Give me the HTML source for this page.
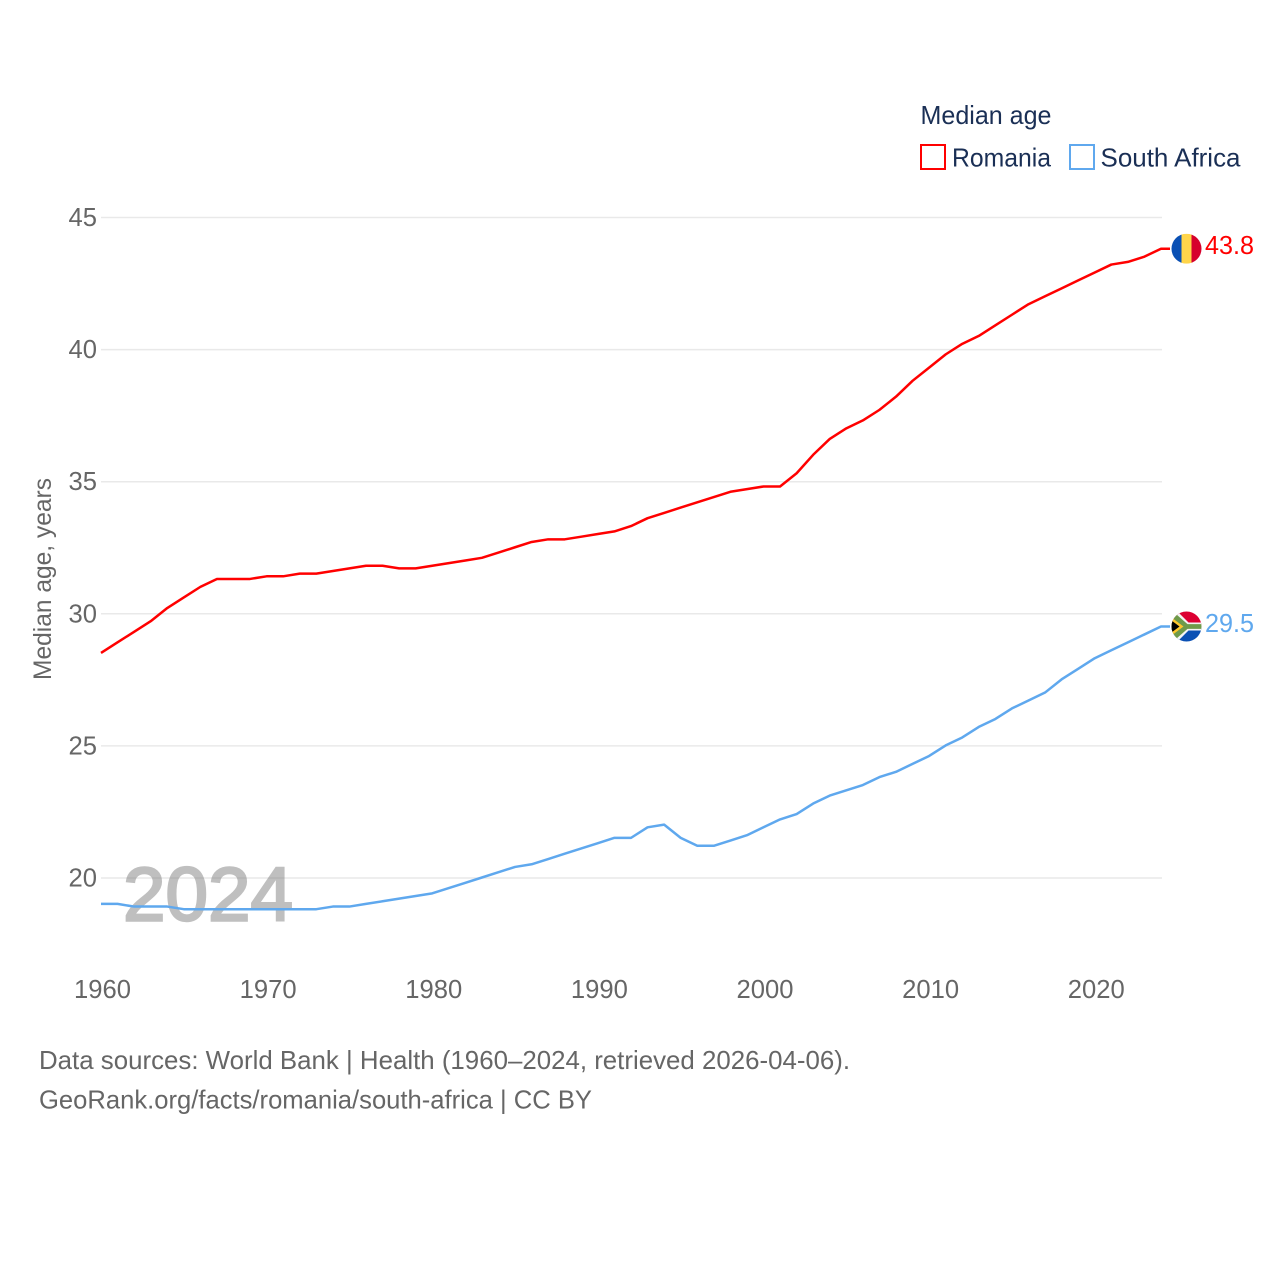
<!DOCTYPE html>
<html lang="en">
<head>
<meta charset="utf-8">
<title>Median age: Romania and South Africa</title>
<style>
  html, body { margin: 0; padding: 0; background: #fff; }
  svg { display: block; font-family: "Liberation Sans", sans-serif; }
</style>
</head>
<body>
<svg id="chart" xmlns="http://www.w3.org/2000/svg" width="1280" height="1280" viewBox="0 0 1280 1280">
  <rect width="1280" height="1280" fill="#ffffff"/>
  <defs>
    <clipPath id="flag-clip-ro"><circle id="clip-ro" cx="0" cy="0" r="15"/></clipPath>
    <clipPath id="flag-clip-za"><circle id="clip-za" cx="0" cy="0" r="15"/></clipPath>
  </defs>
  <g id="grid"></g>
  <g id="y-ticks"></g>
  <g id="x-ticks"></g>
  <text transform="translate(51,680) rotate(-90)" font-size="25" fill="#666666" textLength="202" lengthAdjust="spacingAndGlyphs">Median age, years</text>
  <text id="year-label" x="123" y="920.5" font-size="76" fill="#808080" stroke="#808080" stroke-width="2.4" opacity="0.5" textLength="170" lengthAdjust="spacingAndGlyphs">2024</text>
  <g id="series"></g>

  <g id="flag-ro">
    <g clip-path="url(#flag-clip-ro)">
      <rect x="-15" y="-15" width="10" height="30" fill="#0a50b4"/>
      <rect x="-5" y="-15" width="10" height="30" fill="#ffd54a"/>
      <rect x="5" y="-15" width="10" height="30" fill="#d6002c"/>
    </g>
  </g>
  <g id="flag-za">
    <g clip-path="url(#flag-clip-za)">
      <rect x="-15" y="-15" width="30" height="15" fill="#dc0032"/>
      <rect x="-15" y="0" width="30" height="15" fill="#0a50b4"/>
      <polygon points="-15,-15 -9,-15 2,-4 15,-4 15,4 2,4 -9,15 -15,15" fill="#f4f4f4"/>
      <polygon points="-15,-12 -10,-12 1,-2.4 15,-2.4 15,2.4 1,2.4 -10,12 -15,12" fill="#6f9a4a"/>
      <polygon points="-15,-9 -3,0 -15,9" fill="#ffc72c"/>
      <polygon points="-15,-6 -7,0 -15,6" fill="#000000"/>
    </g>
  </g>
  <text id="value-ro" x="1205" y="254" font-size="25.6" fill="#ff0000" textLength="49" lengthAdjust="spacingAndGlyphs"></text>
  <text id="value-za" x="1205" y="632" font-size="25.6" fill="#5fa8ee" textLength="49" lengthAdjust="spacingAndGlyphs"></text>

  <g>
    <text x="920.5" y="124" font-size="26" fill="#1a2f55" textLength="131" lengthAdjust="spacingAndGlyphs">Median age</text>
    <g>
      <rect x="921" y="145" width="24" height="24" fill="none" stroke="#ff0000" stroke-width="2"/>
      <text x="952" y="166.5" font-size="26" fill="#1a2f55" textLength="99" lengthAdjust="spacingAndGlyphs">Romania</text>
    </g>
    <g>
      <rect x="1070" y="145" width="24" height="24" fill="none" stroke="#5fa8ee" stroke-width="2"/>
      <text x="1100.5" y="166.5" font-size="26" fill="#1a2f55" textLength="140" lengthAdjust="spacingAndGlyphs">South Africa</text>
    </g>
  </g>

  <text x="39" y="1069" font-size="26" fill="#666666" textLength="811" lengthAdjust="spacingAndGlyphs">Data sources: World Bank | Health (1960–2024, retrieved 2026-04-06).</text>
  <text x="39" y="1108.5" font-size="26" fill="#666666" textLength="553" lengthAdjust="spacingAndGlyphs">GeoRank.org/facts/romania/south-africa | CC BY</text>
</svg>
<script>
const years = [1960,1961,1962,1963,1964,1965,1966,1967,1968,1969,1970,1971,1972,1973,1974,1975,1976,1977,1978,1979,1980,1981,1982,1983,1984,1985,1986,1987,1988,1989,1990,1991,1992,1993,1994,1995,1996,1997,1998,1999,2000,2001,2002,2003,2004,2005,2006,2007,2008,2009,2010,2011,2012,2013,2014,2015,2016,2017,2018,2019,2020,2021,2022,2023,2024];
const romaniaValues = [28.5,28.9,29.3,29.7,30.2,30.6,31.0,31.3,31.3,31.3,31.4,31.4,31.5,31.5,31.6,31.7,31.8,31.8,31.7,31.7,31.8,31.9,32.0,32.1,32.3,32.5,32.7,32.8,32.8,32.9,33.0,33.1,33.3,33.6,33.8,34.0,34.2,34.4,34.6,34.7,34.8,34.8,35.3,36.0,36.6,37.0,37.3,37.7,38.2,38.8,39.3,39.8,40.2,40.5,40.9,41.3,41.7,42.0,42.3,42.6,42.9,43.2,43.3,43.5,43.8];
const southAfricaValues = [19.0,19.0,18.9,18.9,18.9,18.8,18.8,18.8,18.8,18.8,18.8,18.8,18.8,18.8,18.9,18.9,19.0,19.1,19.2,19.3,19.4,19.6,19.8,20.0,20.2,20.4,20.5,20.7,20.9,21.1,21.3,21.5,21.5,21.9,22.0,21.5,21.2,21.2,21.4,21.6,21.9,22.2,22.4,22.8,23.1,23.3,23.5,23.8,24.0,24.3,24.6,25.0,25.3,25.7,26.0,26.4,26.7,27.0,27.5,27.9,28.3,28.6,28.9,29.2,29.5];
const yTickValues = [20,25,30,35,40,45];
const xTickValues = [1960,1970,1980,1990,2000,2010,2020];

const NS = 'http://www.w3.org/2000/svg';
const plotLeft = 101, plotRight = 1161, gridRight = 1162, plotTop = 217.5, plotBottom = 878;
const seriesShift = -0.5;
function xScale(year) {
  return plotLeft + (year - 1960) * (plotRight - plotLeft) / (2024 - 1960);
}
function yScale(value) {
  return plotBottom - (value - 20) * (plotBottom - plotTop) / (45 - 20);
}

const gridGroup = document.getElementById('grid');
const yTickGroup = document.getElementById('y-ticks');
yTickValues.forEach(function (tick) {
  const line = document.createElementNS(NS, 'line');
  
  
  line.setAttribute('x1', plotLeft);
  line.setAttribute('x2', gridRight);
  line.setAttribute('y1', yScale(tick));
  line.setAttribute('y2', yScale(tick));
  line.setAttribute('stroke', '#e9e9e9');
  line.setAttribute('stroke-width', '1.5');
  gridGroup.appendChild(line);

  const label = document.createElementNS(NS, 'text');
  
  
  label.setAttribute('x', 97);
  label.setAttribute('y', yScale(tick) + 8.5);
  label.setAttribute('text-anchor', 'end');
  label.setAttribute('font-size', '25.6');
  label.setAttribute('fill', '#666666');
  label.textContent = tick;
  yTickGroup.appendChild(label);
});

const xTickGroup = document.getElementById('x-ticks');
xTickValues.forEach(function (tick) {
  const label = document.createElementNS(NS, 'text');
  
  
  label.setAttribute('x', xScale(tick) + 1.5);
  label.setAttribute('y', 998);
  label.setAttribute('text-anchor', 'middle');
  label.setAttribute('font-size', '25.6');
  label.setAttribute('fill', '#666666');
  label.textContent = tick;
  xTickGroup.appendChild(label);
});

function drawSeries(values, colour, seriesName) {
  const last = values[values.length - 1];
  let d = values.map(function (v, i) {
    return (i ? 'L' : 'M') + xScale(years[i]).toFixed(2) + ' ' + (yScale(v) + seriesShift).toFixed(2);
  }).join(' ');
  d += ' L' + (xScale(years[years.length - 1]) + 9).toFixed(2) + ' ' + (yScale(last) + seriesShift).toFixed(2);
  const path = document.createElementNS(NS, 'path');
  
  
  path.setAttribute('d', d);
  path.setAttribute('fill', 'none');
  path.setAttribute('stroke', colour);
  path.setAttribute('stroke-width', '2.5');
  path.setAttribute('stroke-linejoin', 'round');
  document.getElementById('series').appendChild(path);
}
drawSeries(southAfricaValues, '#5fa8ee', 'south-africa-line');
drawSeries(romaniaValues, '#ff0000', 'romania-line');

function placeEnd(values, code) {
  const last = values[values.length - 1];
  const cy = yScale(last) - 0.5;
  document.getElementById('flag-' + code).setAttribute('transform', 'translate(1186.5,' + cy.toFixed(2) + ')');
  const value = document.getElementById('value-' + code);
  value.textContent = last.toFixed(1);
  value.setAttribute('y', (cy + 5.5).toFixed(2));
}
placeEnd(romaniaValues, 'ro');
placeEnd(southAfricaValues, 'za');
</script>
</body>
</html>
